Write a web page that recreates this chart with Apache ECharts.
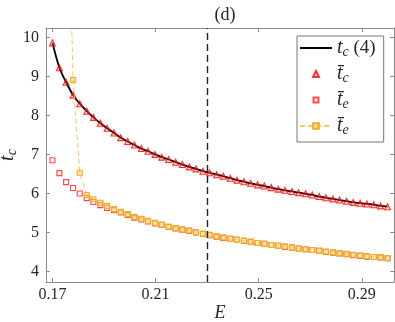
<!DOCTYPE html>
<html>
<head>
<meta charset="utf-8">
<script src="https://cdn.jsdelivr.net/npm/echarts@6/dist/echarts.min.js"></script>
<style>
  html, body { margin: 0; padding: 0; background: #fff; }
  #chart { width: 395px; height: 322px; }
</style>
</head>
<body>
<div id="chart"></div>
<script>
// E values of the sampled points
const eValues = [
  0.1700, 0.1727, 0.1753, 0.1780, 0.1806, 0.1833, 0.1859, 0.1886, 0.1912, 0.1939,
  0.1965, 0.1992, 0.2018, 0.2045, 0.2071, 0.2098, 0.2124, 0.2151, 0.2178, 0.2204,
  0.2231, 0.2257, 0.2284, 0.2310, 0.2337, 0.2363, 0.2390, 0.2416, 0.2443, 0.2469,
  0.2496, 0.2522, 0.2549, 0.2576, 0.2602, 0.2629, 0.2655, 0.2682, 0.2708, 0.2735,
  0.2761, 0.2788, 0.2814, 0.2841, 0.2867, 0.2894, 0.2920, 0.2947, 0.2973, 0.3000
]
// t_c from eq. (4) (black curve) and the simulated t_c bar (red triangles)
const tcTheory = [
  9.86, 9.22, 8.85, 8.52, 8.30, 8.11, 7.95, 7.80, 7.67, 7.55,
  7.43, 7.33, 7.24, 7.15, 7.08, 7.00, 6.93, 6.87, 6.80, 6.74,
  6.68, 6.63, 6.57, 6.53, 6.48, 6.44, 6.39, 6.34, 6.30, 6.26,
  6.22, 6.19, 6.15, 6.11, 6.08, 6.05, 6.02, 5.99, 5.96, 5.92,
  5.89, 5.86, 5.83, 5.80, 5.77, 5.75, 5.73, 5.71, 5.68, 5.66
]
const tcBar = [
  9.86, 9.22, 8.85, 8.52, 8.30, 8.11, 7.95, 7.80, 7.67, 7.55,
  7.43, 7.33, 7.24, 7.15, 7.08, 7.00, 6.93, 6.87, 6.80, 6.74,
  6.68, 6.63, 6.57, 6.53, 6.48, 6.44, 6.39, 6.34, 6.30, 6.26,
  6.22, 6.19, 6.15, 6.11, 6.08, 6.05, 6.02, 5.99, 5.96, 5.92,
  5.89, 5.86, 5.83, 5.80, 5.77, 5.75, 5.73, 5.71, 5.68, 5.66
]
// t_e bar, red squares
const teBar = [
  6.85, 6.52, 6.29, 6.14, 6.00, 5.88, 5.78, 5.70, 5.63, 5.57,
  5.51, 5.45, 5.38, 5.33, 5.28, 5.23, 5.19, 5.14, 5.10, 5.07,
  5.04, 5.00, 4.96, 4.93, 4.89, 4.86, 4.84, 4.81, 4.78, 4.76,
  4.73, 4.71, 4.68, 4.66, 4.63, 4.61, 4.59, 4.57, 4.55, 4.53,
  4.50, 4.48, 4.46, 4.44, 4.42, 4.40, 4.38, 4.37, 4.36, 4.34
]
// t_e bar, yellow dashed with squares (first points out of range)
const teBar2 = [
  null, null, 15.9, 8.91, 6.53, 5.96, 5.85, 5.76, 5.68, 5.60,
  5.53, 5.47, 5.40, 5.35, 5.30, 5.25, 5.20, 5.15, 5.11, 5.08,
  5.05, 5.01, 4.97, 4.94, 4.90, 4.87, 4.84, 4.81, 4.79, 4.76,
  4.73, 4.71, 4.68, 4.66, 4.64, 4.61, 4.59, 4.57, 4.55, 4.53,
  4.51, 4.49, 4.47, 4.45, 4.43, 4.41, 4.39, 4.37, 4.36, 4.34
]
const critE = 0.231
const xTicks = [0.17, 0.21, 0.25, 0.29]
const yTicks = [4, 5, 6, 7, 8, 9, 10]

const pairs = arr => eValues.map((e, i) => [e, arr[i]])

const serif = 'Liberation Serif'
const axisGray = '#8a8a8a'
const textDark = '#262626'

const legendText = {
  tc4: '{i|t}{s|c}{n| (4)}',
  tcBar: '{i|t\u0304}{s|c}',
  teBar: '{i|t\u0304}{s|e}',
  teBar2: '{i|t\u0304}{s|e}'
}
// small legend markers: zero-length corner segments keep the 32x7 box unscaled
const triIcon = 'path://M0,0L0,0M32,7L32,7M13,6.5L16,0.5L19,6.5Z'
const sqIcon = 'path://M0,0L0,0M32,7L32,7M13.5,1L18.5,1L18.5,6L13.5,6Z'

function xAx (pos, showLabel) {
  return {
    type: 'value',
    position: pos,
    min: 0.1675,
    max: 0.3025,
    axisLine: { show: true, onZero: false, lineStyle: { color: axisGray, width: 1 } },
    axisTick: { show: true, inside: true, length: 4, customValues: xTicks, lineStyle: { color: axisGray } },
    axisLabel: { show: showLabel, customValues: xTicks, margin: 5, fontFamily: serif, fontSize: 16, color: textDark },
    splitLine: { show: false }
  }
}

function yAx (pos, showLabel) {
  return {
    type: 'value',
    position: pos,
    min: 3.73,
    max: 10.24,
    axisLine: { show: true, onZero: false, lineStyle: { color: axisGray, width: 1 } },
    axisTick: { show: true, inside: true, length: 4, customValues: yTicks, lineStyle: { color: axisGray } },
    axisLabel: { show: showLabel, customValues: yTicks, margin: 7, fontFamily: serif, fontSize: 16, color: textDark },
    splitLine: { show: false }
  }
}

const xBottom = xAx('bottom', true)
xBottom.name = 'E'
xBottom.nameLocation = 'middle'
xBottom.nameGap = 22
xBottom.nameMoveOverlap = false
xBottom.nameTextStyle = { fontFamily: serif, fontStyle: 'italic', fontSize: 18, color: textDark }

const yLeft = yAx('left', true)
yLeft.name = '{i|t}{s|c}'
yLeft.nameLocation = 'middle'
yLeft.nameRotate = 90
yLeft.nameGap = 27
yLeft.nameMoveOverlap = false
yLeft.nameTextStyle = {
  color: textDark,
  rich: {
    i: { fontFamily: serif, fontStyle: 'italic', fontSize: 20, color: textDark },
    s: { fontFamily: serif, fontStyle: 'italic', fontSize: 14, color: textDark, padding: [8, 0, 0, 0] }
  }
}

const option = {
  animation: false,
  backgroundColor: '#fff',
  title: {
    text: '(d)',
    left: 220,
    textAlign: 'center',
    top: 1,
    textStyle: { fontFamily: serif, fontWeight: 'normal', fontSize: 18, color: textDark }
  },
  grid: { left: 46, right: 1, top: 28, bottom: 40, containLabel: false, outerBoundsMode: 'none' },
  xAxis: [xBottom, xAx('top', false)],
  yAxis: [yLeft, yAx('right', false)],
  legend: {
    orient: 'vertical',
    left: 297,
    top: 36,
    itemWidth: 32,
    itemHeight: 7,
    itemGap: 5,
    padding: [2, 8, 5, 2],
    backgroundColor: '#fff',
    borderColor: '#777',
    borderWidth: 1,
    data: [
      { name: 'tc4', itemStyle: { opacity: 0 } },
      { name: 'tcBar', icon: triIcon },
      { name: 'teBar', icon: sqIcon },
      { name: 'teBar2' }
    ],
    formatter: name => legendText[name],
    textStyle: {
      color: textDark,
      rich: {
        i: { fontFamily: serif, fontStyle: 'italic', fontSize: 20, color: textDark, lineHeight: 22 },
        s: { fontFamily: serif, fontStyle: 'italic', fontSize: 14, color: textDark, padding: [8, 0, 0, 0] },
        n: { fontFamily: serif, fontSize: 19, color: textDark }
      }
    }
  },
  series: [
    {
      name: 'tc4',
      type: 'line',
      data: pairs(tcTheory),
      smooth: 0.3,
      showSymbol: false,
      symbol: 'none',
      lineStyle: { color: '#000', width: 1.8 },
      itemStyle: { color: '#000' },
      z: 2,
      markLine: {
        silent: true,
        symbol: 'none',
        label: { show: false },
        lineStyle: { color: '#222', type: [7, 4], width: 1.4 },
        data: [{ xAxis: critE }]
      }
    },
    {
      name: 'tcBar',
      type: 'scatter',
      data: pairs(tcBar),
      symbol: 'triangle',
      symbolSize: 6,
      itemStyle: { color: 'rgba(255,120,120,0.35)', borderColor: '#ff0000', borderWidth: 1.1 },
      z: 3
    },
    {
      name: 'teBar',
      type: 'scatter',
      data: pairs(teBar),
      symbol: 'rect',
      symbolSize: 5,
      itemStyle: { color: 'rgba(255,255,255,0.6)', borderColor: '#ff1a1a', borderWidth: 1.1 },
      z: 3
    },
    {
      name: 'teBar2',
      type: 'line',
      data: pairs(teBar2),
      connectNulls: false,
      symbol: 'rect',
      symbolSize: 5,
      showSymbol: true,
      lineStyle: { color: '#f4c868', width: 1, type: [5, 3] },
      itemStyle: { color: 'rgba(245,200,110,0.45)', borderColor: '#edb120', borderWidth: 1.1 },
      z: 4
    }
  ]
}

const chart = echarts.init(document.getElementById('chart'), null, { renderer: 'canvas' })
chart.setOption(option)
</script>
</body>
</html>
